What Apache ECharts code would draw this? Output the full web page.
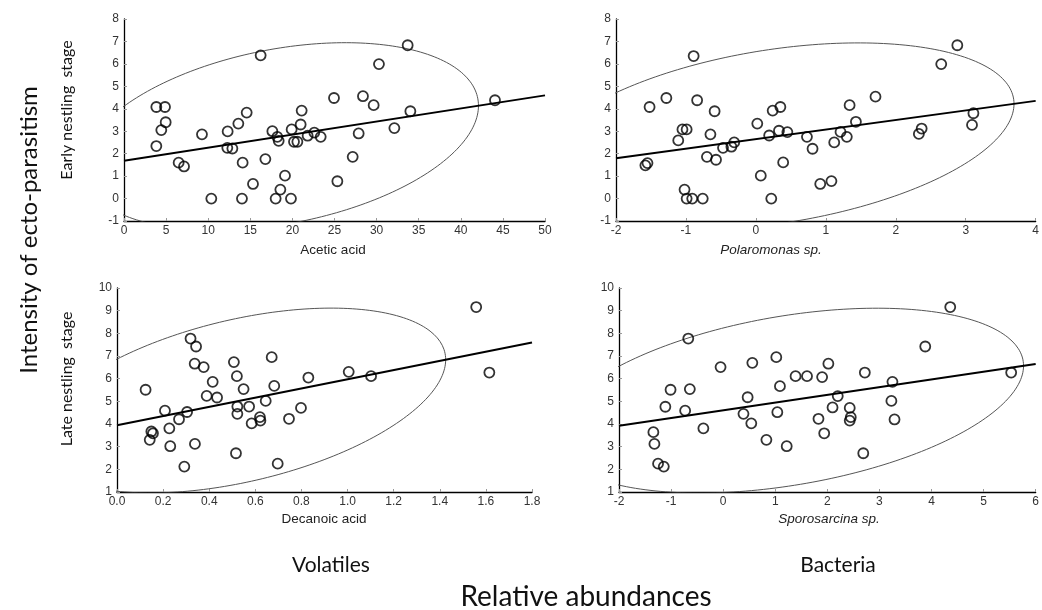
<!DOCTYPE html>
<html>
<head>
<meta charset="utf-8">
<script src="https://cdn.jsdelivr.net/npm/echarts@6/dist/echarts.min.js"></script>
<style>
  html, body { margin: 0; padding: 0; background: #fff; }
  #chart { width: 1042px; height: 610px; }
</style>
</head>
<body>
<div id="chart"></div>
<script>
// top row: early nestling stage
const aceticAcid = [3.84, 4.87, 4.95, 4.43, 3.84, 6.49, 7.13, 9.26, 10.37, 12.31, 12.27, 12.87, 13.58, 14.57, 14.09,
  14.01, 15.32, 16.23, 16.79, 17.62, 18.21, 18.37, 18.57, 18.01, 19.12, 19.83, 19.91, 20.19, 20.59, 20.98,
  21.10, 21.81, 22.60, 23.36, 24.94, 25.34, 27.16, 27.87, 28.38, 29.65, 30.28, 32.11, 33.69, 34.01, 44.06];
const earlyAcetic = [4.08, 4.08, 3.40, 3.05, 2.34, 1.60, 1.43, 2.86, 0, 2.99, 2.26, 2.23, 3.34, 3.83, 1.60,
  0, 0.65, 6.38, 1.76, 3.00, 2.75, 2.57, 0.40, 0, 1.02, 0, 3.08, 2.53, 2.53, 3.30,
  3.92, 2.80, 2.94, 2.75, 4.48, 0.77, 1.86, 2.90, 4.56, 4.16, 5.99, 3.14, 6.83, 3.89, 4.38];

const polaromonas = [-1.58, -1.55, -1.52, -1.28, -1.11, -1.05, -0.99, -1.02, -0.99, -0.91, -0.89, -0.84, -0.76, -0.70, -0.65,
  -0.59, -0.57, -0.47, -0.35, -0.31, 0.02, 0.07, 0.19, 0.22, 0.24, 0.33, 0.35, 0.39, 0.45, 0.73,
  0.81, 0.92, 1.08, 1.12, 1.21, 1.30, 1.34, 1.43, 1.71, 2.33, 2.37, 2.65, 2.88, 3.09, 3.11];
const earlyPolaromonas = [1.48, 1.58, 4.08, 4.48, 2.59, 3.08, 3.08, 0.40, 0, 0, 6.35, 4.38, 0, 1.86, 2.86,
  3.89, 1.73, 2.26, 2.31, 2.50, 3.34, 1.02, 2.81, 0, 3.92, 3.02, 4.08, 1.61, 2.96, 2.75,
  2.22, 0.65, 0.78, 2.50, 2.97, 2.75, 4.16, 3.42, 4.54, 2.88, 3.12, 5.99, 6.83, 3.28, 3.80];

// bottom row: late nestling stage
const decanoicAcid = [0.124, 0.142, 0.149, 0.156, 0.208, 0.227, 0.231, 0.269, 0.292, 0.304, 0.319, 0.343, 0.337,
  0.338, 0.376, 0.389, 0.415, 0.434, 0.507, 0.520, 0.522, 0.522, 0.516, 0.549, 0.573, 0.584,
  0.620, 0.622, 0.645, 0.671, 0.682, 0.697, 0.746, 0.798, 0.830, 1.005, 1.102, 1.558, 1.615];
const lateDecanoic = [5.51, 3.30, 3.67, 3.59, 4.59, 3.81, 3.02, 4.21, 2.12, 4.53, 7.77, 7.42, 6.66,
  3.12, 6.51, 5.24, 5.86, 5.17, 6.73, 6.11, 4.77, 4.45, 2.71, 5.54, 4.77, 4.03,
  4.30, 4.15, 5.02, 6.95, 5.68, 2.25, 4.23, 4.71, 6.05, 6.30, 6.11, 9.16, 6.27];

const sporosarcina = [-1.34, -1.32, -1.25, -1.14, -1.11, -1.01, -0.73, -0.67, -0.64, -0.38, -0.05, 0.39, 0.47,
  0.54, 0.56, 0.83, 1.02, 1.04, 1.09, 1.22, 1.39, 1.61, 1.83, 1.90, 1.94, 2.02,
  2.10, 2.20, 2.43, 2.45, 2.43, 2.69, 2.72, 3.23, 3.25, 3.29, 3.88, 4.36, 5.53];
const lateSporosarcina = [3.64, 3.12, 2.25, 2.12, 4.76, 5.51, 4.59, 7.77, 5.54, 3.81, 6.51, 4.45, 5.18,
  4.03, 6.70, 3.30, 6.95, 4.52, 5.67, 3.02, 6.11, 6.11, 4.23, 6.07, 3.59, 6.66,
  4.73, 5.23, 4.71, 4.30, 4.15, 2.71, 6.27, 5.02, 5.86, 4.20, 7.42, 9.16, 6.27];

const panels = [
  { x: aceticAcid, y: earlyAcetic, name: 'Acetic acid', italic: false, xMin: 0, xMax: 50, xInt: 5, yMin: -1, yMax: 8,
    grid: { left: 124, top: 19, width: 421, height: 202 }, nameAt: [333, 250], dec: 0 },
  { x: polaromonas, y: earlyPolaromonas, name: 'Polaromonas sp.', italic: true, xMin: -2, xMax: 4, xInt: 1, yMin: -1, yMax: 8,
    grid: { left: 616, top: 19, width: 424, height: 202 }, nameAt: [771, 250], dec: 0 },
  { x: decanoicAcid, y: lateDecanoic, name: 'Decanoic acid', italic: false, xMin: 0, xMax: 1.8, xInt: 0.2, yMin: 1, yMax: 10,
    grid: { left: 117, top: 288, width: 415, height: 204 }, nameAt: [324, 519], dec: 1 },
  { x: sporosarcina, y: lateSporosarcina, name: 'Sporosarcina sp.', italic: true, xMin: -2, xMax: 6, xInt: 1, yMin: 1, yMax: 10,
    grid: { left: 619, top: 288, width: 421, height: 204 }, nameAt: [829, 519], dec: 0 }
];

function stats(xs, ys) {
  const n = xs.length;
  const mx = xs.reduce((a, b) => a + b, 0) / n;
  const my = ys.reduce((a, b) => a + b, 0) / n;
  let sxx = 0, syy = 0, sxy = 0;
  for (let i = 0; i < n; i++) {
    sxx += (xs[i] - mx) ** 2;
    syy += (ys[i] - my) ** 2;
    sxy += (xs[i] - mx) * (ys[i] - my);
  }
  return { n, mx, my, vx: sxx / (n - 1), vy: syy / (n - 1), cxy: sxy / (n - 1), slope: sxy / sxx };
}

// 95% prediction ellipse (Hotelling T^2 with F(2, n-2))
function ellipse(s) {
  const m = s.n - 2;
  const f = (m / 2) * (Math.pow(0.05, -2 / m) - 1);
  const k = Math.sqrt(2 * (s.n - 1) * (s.n + 1) / (s.n * m) * f);
  const a = Math.sqrt(s.vx);
  const b = Math.sqrt(s.vy);
  const r = s.cxy / (a * b);
  const pts = [];
  for (let i = 0; i <= 240; i++) {
    const t = (i / 240) * 2 * Math.PI;
    const u = Math.cos(t), v = Math.sin(t);
    pts.push([s.mx + k * a * u, s.my + k * b * (r * u + Math.sqrt(1 - r * r) * v)]);
  }
  return pts;
}

const axisFont = 'Liberation Sans, Arial, sans-serif';
const grids = [], xAxes = [], yAxes = [], series = [], graphics = [];

panels.forEach((p, i) => {
  grids.push(Object.assign({ containLabel: false }, p.grid));
  xAxes.push({
    type: 'value', gridIndex: i, min: p.xMin, max: p.xMax, interval: p.xInt,
    axisLine: { onZero: false, lineStyle: { color: '#000', width: 1.3 } },
    axisTick: { inside: true, length: 3, lineStyle: { color: '#999' } },
    splitLine: { show: false },
    axisLabel: { color: '#333', fontSize: 12, fontFamily: axisFont, margin: 4,
      formatter: v => v.toFixed(p.dec), showMaxLabel: true, showMinLabel: true }
  });
  yAxes.push({
    type: 'value', gridIndex: i, min: p.yMin, max: p.yMax, interval: 1,
    axisLine: { show: true, onZero: false, lineStyle: { color: '#000', width: 1.3 } },
    axisTick: { show: true, inside: true, length: 3, lineStyle: { color: '#999' } },
    splitLine: { show: false },
    axisLabel: { color: '#333', fontSize: 12, fontFamily: axisFont, margin: 5 }
  });

  const s = stats(p.x, p.y);
  series.push({
    type: 'line', xAxisIndex: i, yAxisIndex: i, data: ellipse(s), showSymbol: false, clip: true,
    lineStyle: { color: '#555', width: 1 }, silent: true, z: 1
  });
  const icpt = s.my - s.slope * s.mx;
  series.push({
    type: 'line', xAxisIndex: i, yAxisIndex: i, showSymbol: false, clip: true,
    data: [[p.xMin, icpt + s.slope * p.xMin], [p.xMax, icpt + s.slope * p.xMax]],
    lineStyle: { color: '#000', width: 2 }, silent: true, z: 2
  });
  series.push({
    type: 'scatter', xAxisIndex: i, yAxisIndex: i, symbol: 'circle', symbolSize: 10,
    data: p.x.map((v, j) => [v, p.y[j]]),
    itemStyle: { color: 'rgba(255,255,255,0)', borderColor: '#000', borderWidth: 1.8 }, z: 3
  });

  graphics.push({
    type: 'text', x: p.nameAt[0], y: p.nameAt[1],
    style: { text: p.name, fill: '#222', font: (p.italic ? 'italic ' : '') + '13.5px ' + axisFont,
      align: 'center', verticalAlign: 'middle' }
  });
});

const bigFont = 'Lato, "Open Sans", sans-serif';
graphics.push(
  { type: 'text', x: 67, y: 110, rotation: Math.PI / 2,
    style: { text: 'Early nestling  stage', fill: '#111', font: '16px ' + bigFont, align: 'center', verticalAlign: 'middle' } },
  { type: 'text', x: 67, y: 379, rotation: Math.PI / 2,
    style: { text: 'Late nestling  stage', fill: '#111', font: '16px ' + bigFont, align: 'center', verticalAlign: 'middle' } },
  { type: 'text', x: 29, y: 230, rotation: Math.PI / 2,
    style: { text: 'Intensity of ecto-parasitism', fill: '#111', font: '24px ' + bigFont, align: 'center', verticalAlign: 'middle' } },
  { type: 'text', x: 331, y: 565,
    style: { text: 'Volatiles', fill: '#111', font: '21px ' + bigFont, align: 'center', verticalAlign: 'middle' } },
  { type: 'text', x: 838, y: 565,
    style: { text: 'Bacteria', fill: '#111', font: '21px ' + bigFont, align: 'center', verticalAlign: 'middle' } },
  { type: 'text', x: 586, y: 597,
    style: { text: 'Relative abundances', fill: '#111', font: '28px ' + bigFont, align: 'center', verticalAlign: 'middle' } }
);

const chart = echarts.init(document.getElementById('chart'));
chart.setOption({
  animation: false,
  backgroundColor: '#fff',
  grid: grids,
  xAxis: xAxes,
  yAxis: yAxes,
  series: series,
  graphic: graphics
});
</script>
</body>
</html>
